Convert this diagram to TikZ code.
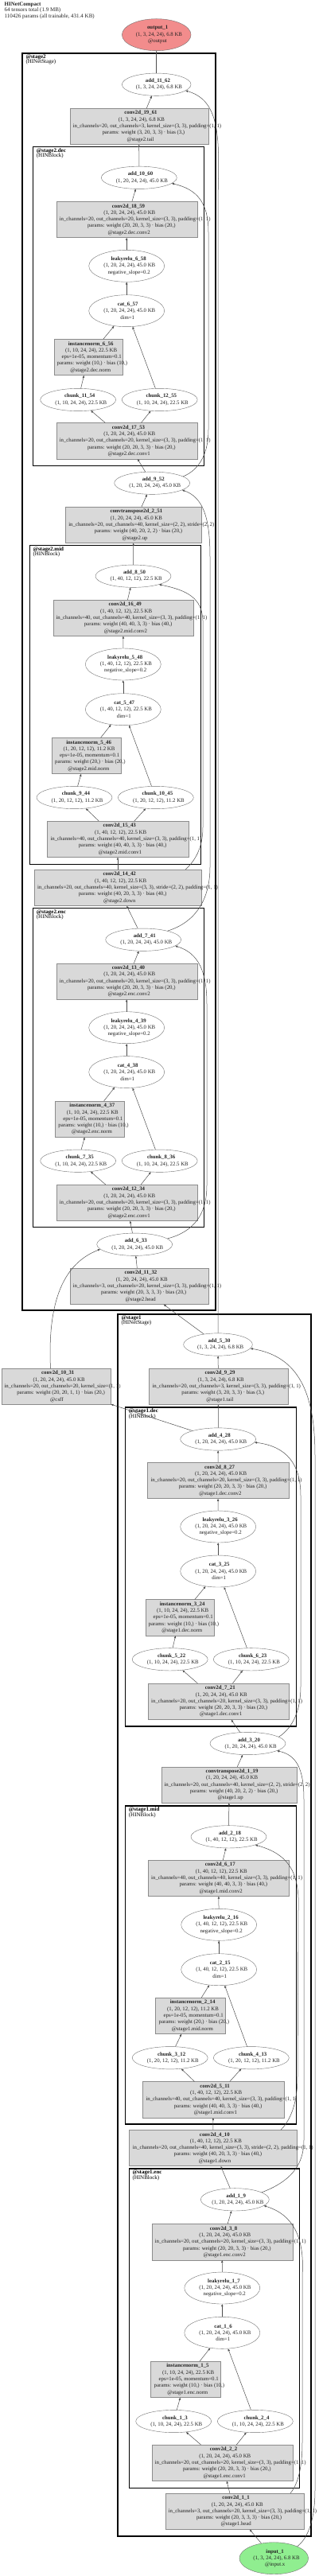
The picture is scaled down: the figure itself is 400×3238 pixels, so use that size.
\documentclass[tikz,border=0pt]{standalone}
\usepackage{fontspec}
\setmainfont{Liberation Serif}
\usetikzlibrary{arrows.meta,shapes.geometric}
\definecolor{boxfill}{HTML}{D9D9D9}
\definecolor{boxline}{HTML}{8C8C8C}
\definecolor{ellline}{HTML}{707070}
\definecolor{flowcol}{HTML}{4D4D4D}
\definecolor{outfill}{HTML}{F28C8C}
\definecolor{infill}{HTML}{90EE90}
\definecolor{txtcol}{HTML}{222222}
\newlength{\zlw}
\newcommand{\zl}[1]{\settowidth{\zlw}{#1}\makebox[0pt]{\hspace*{0.11\zlw}#1}}
\newcommand{\optxt}[5]{\zl{\textbf{#1}}\\\zl{#2}\\\zl{#3}\\\zl{#4}\\\zl{#5}}
\newcommand{\twotxt}[2]{\zl{\textbf{#1}}\\\zl{#2}}
\newcommand{\threetxt}[3]{\zl{\textbf{#1}}\\\zl{#2}\\\zl{#3}}

\begin{document}
\begin{tikzpicture}[x=1pt, y=-1pt, >={Triangle[length=3pt,width=2.4pt]}, font=\fontsize{6.8pt}{8.3pt}\selectfont,
  opbox/.style={rectangle, draw=boxline, fill=boxfill, inner sep=0pt, minimum height=45.3pt, align=center, text=txtcol},
  opell/.style={ellipse, draw=ellline, fill=white, inner sep=0pt, minimum width=95pt, minimum height=28.3pt, align=center, text=txtcol},
  threeline/.style={minimum height=40pt},
  flow/.style={->, draw=flowcol, line width=0.5pt},
  stagebox/.style={draw=black, line width=1.8pt},
  blockbox/.style={draw=black, line width=1.2pt},
  clabel/.style={anchor=north west, align=left, inner sep=0pt, font=\fontsize{7pt}{6.5pt}\selectfont}]
  \useasboundingbox (0,0) rectangle (400,3238);

  \node[clabel, font=\fontsize{7pt}{6pt}\selectfont, text=txtcol] (title) at (5.5,2.7) {\textbf{HINetCompact}\\64 tensors total (1.9 MB)\\110426 params (all trainable, 431.4 KB)};

  \draw[stagebox] (28.3,66.7) rectangle (270.7,1647.3);
  \draw[blockbox] (41.7,184.3) rectangle (256.7,585.7);
  \draw[blockbox] (37.3,685.7) rectangle (252.3,1086.7);
  \draw[blockbox] (41.7,1141.7) rectangle (256.7,1542.7);
  \draw[stagebox] (148.3,1651.7) rectangle (390.7,3188.3);
  \draw[blockbox] (157.7,1769) rectangle (372.3,2170);
  \draw[blockbox] (157.7,2270) rectangle (372.3,2670);
  \draw[blockbox] (162.3,2726) rectangle (376.7,3127.3);
  \node[clabel] (l2) at (32.3,68.2) {\textbf{@stage2}\\(HINetStage)};
  \node[clabel] (l2d) at (45.7,186) {\textbf{@stage2.dec}\\(HINBlock)};
  \node[clabel] (l2m) at (41.3,687.4) {\textbf{@stage2.mid}\\(HINBlock)};
  \node[clabel] (l2e) at (45.7,1143.4) {\textbf{@stage2.enc}\\(HINBlock)};
  \node[clabel] (l1) at (152.3,1653.4) {\textbf{@stage1}\\(HINetStage)};
  \node[clabel] (l1d) at (161.7,1770.7) {\textbf{@stage1.dec}\\(HINBlock)};
  \node[clabel] (l1m) at (161.7,2271.7) {\textbf{@stage1.mid}\\(HINBlock)};
  \node[clabel] (l1e) at (166.3,2727.7) {\textbf{@stage1.enc}\\(HINBlock)};

  \node[opell, minimum width=86.7pt, threeline, fill=outfill] (outp) at (196.7,43.7) {\threetxt{output\_1}{(1, 3, 24, 24), 6.8 KB}{@output}};
  \node[opell, minimum width=86.7pt] (a11) at (196.7,106.2) {\twotxt{add\_11\_62}{(1, 3, 24, 24), 6.8 KB}};
  \node[opbox, minimum width=174pt] (c19) at (174.7,158.9) {\optxt{conv2d\_19\_61}{(1, 3, 24, 24), 6.8 KB}{in\_channels=20, out\_channels=3, kernel\_size=(3, 3), padding=(1, 1)}{params: weight (3, 20, 3, 3) · bias (3,)}{@stage2.tail}};
  \node[opell] (a10) at (174.8,223.3) {\twotxt{add\_10\_60}{(1, 20, 24, 24), 45.0 KB}};
  \node[opbox, minimum width=177pt] (c18) at (159.2,276) {\optxt{conv2d\_18\_59}{(1, 20, 24, 24), 45.0 KB}{in\_channels=20, out\_channels=20, kernel\_size=(3, 3), padding=(1, 1)}{params: weight (20, 20, 3, 3) · bias (20,)}{@stage2.dec.conv2}};
  \node[opell, threeline] (lr6) at (159.2,334.3) {\threetxt{leakyrelu\_6\_58}{(1, 20, 24, 24), 45.0 KB}{negative\_slope=0.2}};
  \node[opell, threeline] (cat6) at (159.2,390.7) {\threetxt{cat\_6\_57}{(1, 20, 24, 24), 45.0 KB}{dim=1}};
  \node[opbox, minimum width=86.6pt] (n6) at (111,449) {\optxt{instancenorm\_6\_56}{(1, 10, 24, 24), 22.5 KB}{eps=1e-05, momentum=0.1}{params: weight (10,) · bias (10,)}{@stage2.dec.norm}};
  \node[opell] (ch11) at (98.2,502.5) {\twotxt{chunk\_11\_54}{(1, 10, 24, 24), 22.5 KB}};
  \node[opell] (ch12) at (200.7,502.5) {\twotxt{chunk\_12\_55}{(1, 10, 24, 24), 22.5 KB}};
  \node[opbox, minimum width=177pt] (c17) at (159.2,554.2) {\optxt{conv2d\_17\_53}{(1, 20, 24, 24), 45.0 KB}{in\_channels=20, out\_channels=20, kernel\_size=(3, 3), padding=(1, 1)}{params: weight (20, 20, 3, 3) · bias (20,)}{@stage2.dec.conv1}};
  \node[opell] (a9) at (191.2,607.2) {\twotxt{add\_9\_52}{(1, 20, 24, 24), 45.0 KB}};
  \node[opbox, minimum width=171pt] (up2) at (167.8,659.8) {\optxt{convtranspose2d\_2\_51}{(1, 20, 24, 24), 45.0 KB}{in\_channels=20, out\_channels=40, kernel\_size=(2, 2), stride=(2, 2)}{params: weight (40, 20, 2, 2) · bias (20,)}{@stage2.up}};
  \node[opell] (a8) at (167.5,724.2) {\twotxt{add\_8\_50}{(1, 40, 12, 12), 22.5 KB}};
  \node[opbox, minimum width=176.6pt] (c16) at (155,776.8) {\optxt{conv2d\_16\_49}{(1, 40, 12, 12), 22.5 KB}{in\_channels=40, out\_channels=40, kernel\_size=(3, 3), padding=(1, 1)}{params: weight (40, 40, 3, 3) · bias (40,)}{@stage2.mid.conv2}};
  \node[opell, threeline] (lr5) at (154.8,835) {\threetxt{leakyrelu\_5\_48}{(1, 40, 12, 12), 22.5 KB}{negative\_slope=0.2}};
  \node[opell, threeline] (cat5) at (154.8,891.7) {\threetxt{cat\_5\_47}{(1, 40, 12, 12), 22.5 KB}{dim=1}};
  \node[opbox, minimum width=86.4pt] (n5) at (108.5,950) {\optxt{instancenorm\_5\_46}{(1, 20, 12, 12), 11.2 KB}{eps=1e-05, momentum=0.1}{params: weight (20,) · bias (20,)}{@stage2.mid.norm}};
  \node[opell] (ch9) at (93.5,1002.5) {\twotxt{chunk\_9\_44}{(1, 20, 12, 12), 11.2 KB}};
  \node[opell] (ch10) at (195.8,1002.5) {\twotxt{chunk\_10\_45}{(1, 20, 12, 12), 11.2 KB}};
  \node[opbox, minimum width=177.4pt] (c15) at (148,1054.8) {\optxt{conv2d\_15\_43}{(1, 40, 12, 12), 22.5 KB}{in\_channels=40, out\_channels=40, kernel\_size=(3, 3), padding=(1, 1)}{params: weight (40, 40, 3, 3) · bias (40,)}{@stage2.mid.conv1}};
  \node[opbox, minimum width=210.6pt] (c14) at (148,1115.8) {\optxt{conv2d\_14\_42}{(1, 40, 12, 12), 22.5 KB}{in\_channels=20, out\_channels=40, kernel\_size=(3, 3), stride=(2, 2), padding=(1, 1)}{params: weight (40, 20, 3, 3) · bias (40,)}{@stage2.down}};
  \node[opell] (a7) at (180.2,1181.2) {\twotxt{add\_7\_41}{(1, 20, 24, 24), 45.0 KB}};
  \node[opbox, minimum width=177pt] (c13) at (159.2,1233.5) {\optxt{conv2d\_13\_40}{(1, 20, 24, 24), 45.0 KB}{in\_channels=20, out\_channels=20, kernel\_size=(3, 3), padding=(1, 1)}{params: weight (20, 20, 3, 3) · bias (20,)}{@stage2.enc.conv2}};
  \node[opell, threeline] (lr4) at (159.2,1291.7) {\threetxt{leakyrelu\_4\_39}{(1, 20, 24, 24), 45.0 KB}{negative\_slope=0.2}};
  \node[opell, threeline] (cat4) at (159.2,1347.6) {\threetxt{cat\_4\_38}{(1, 20, 24, 24), 45.0 KB}{dim=1}};
  \node[opbox, minimum width=86.7pt] (n4) at (112.7,1406.7) {\optxt{instancenorm\_4\_37}{(1, 10, 24, 24), 22.5 KB}{eps=1e-05, momentum=0.1}{params: weight (10,) · bias (10,)}{@stage2.enc.norm}};
  \node[opell] (ch7) at (98.2,1459.2) {\twotxt{chunk\_7\_35}{(1, 10, 24, 24), 22.5 KB}};
  \node[opell] (ch8) at (200.7,1459.2) {\twotxt{chunk\_8\_36}{(1, 10, 24, 24), 22.5 KB}};
  \node[opbox, minimum width=177pt] (c12) at (159.2,1511.8) {\optxt{conv2d\_12\_34}{(1, 20, 24, 24), 45.0 KB}{in\_channels=20, out\_channels=20, kernel\_size=(3, 3), padding=(1, 1)}{params: weight (20, 20, 3, 3) · bias (20,)}{@stage2.enc.conv1}};
  \node[opell] (a6) at (169.2,1564.2) {\twotxt{add\_6\_33}{(1, 20, 24, 24), 45.0 KB}};
  \node[opbox, minimum width=174pt] (c11) at (174.7,1616.8) {\optxt{conv2d\_11\_32}{(1, 20, 24, 24), 45.0 KB}{in\_channels=3, out\_channels=20, kernel\_size=(3, 3), padding=(1, 1)}{params: weight (20, 3, 3, 3) · bias (20,)}{@stage2.head}};
  \node[opbox, minimum width=137.6pt] (c10) at (70.5,1742.8) {\optxt{conv2d\_10\_31}{(1, 20, 24, 24), 45.0 KB}{in\_channels=20, out\_channels=20, kernel\_size=(1, 1)}{params: weight (20, 20, 1, 1) · bias (20,)}{@csff}};

  \node[opell, minimum width=86.7pt] (a5) at (274,1690) {\twotxt{add\_5\_30}{(1, 3, 24, 24), 6.8 KB}};
  \node[opbox, minimum width=174.4pt] (c9) at (274.5,1742.8) {\optxt{conv2d\_9\_29}{(1, 3, 24, 24), 6.8 KB}{in\_channels=20, out\_channels=3, kernel\_size=(3, 3), padding=(1, 1)}{params: weight (3, 20, 3, 3) · bias (3,)}{@stage1.tail}};
  \node[opell] (a4) at (274.2,1809) {\twotxt{add\_4\_28}{(1, 20, 24, 24), 45.0 KB}};
  \node[opbox, minimum width=177.4pt] (c8) at (274,1861) {\optxt{conv2d\_8\_27}{(1, 20, 24, 24), 45.0 KB}{in\_channels=20, out\_channels=20, kernel\_size=(3, 3), padding=(1, 1)}{params: weight (20, 20, 3, 3) · bias (20,)}{@stage1.dec.conv2}};
  \node[opell, threeline] (lr3) at (274.2,1919) {\threetxt{leakyrelu\_3\_26}{(1, 20, 24, 24), 45.0 KB}{negative\_slope=0.2}};
  \node[opell, threeline] (cat3) at (274.2,1975) {\threetxt{cat\_3\_25}{(1, 20, 24, 24), 45.0 KB}{dim=1}};
  \node[opbox, minimum width=86.6pt] (n3) at (226,2033.3) {\optxt{instancenorm\_3\_24}{(1, 10, 24, 24), 22.5 KB}{eps=1e-05, momentum=0.1}{params: weight (10,) · bias (10,)}{@stage1.dec.norm}};
  \node[opell] (ch5) at (213.7,2085.8) {\twotxt{chunk\_5\_22}{(1, 10, 24, 24), 22.5 KB}};
  \node[opell] (ch6) at (315.8,2085.8) {\twotxt{chunk\_6\_23}{(1, 10, 24, 24), 22.5 KB}};
  \node[opbox, minimum width=177.3pt] (c7) at (274.7,2138.7) {\optxt{conv2d\_7\_21}{(1, 20, 24, 24), 45.0 KB}{in\_channels=20, out\_channels=20, kernel\_size=(3, 3), padding=(1, 1)}{params: weight (20, 20, 3, 3) · bias (20,)}{@stage1.dec.conv1}};
  \node[opell] (a3) at (311.5,2191.5) {\twotxt{add\_3\_20}{(1, 20, 24, 24), 45.0 KB}};
  \node[opbox, minimum width=170.6pt] (up1) at (288,2243.5) {\optxt{convtranspose2d\_1\_19}{(1, 20, 24, 24), 45.0 KB}{in\_channels=20, out\_channels=40, kernel\_size=(2, 2), stride=(2, 2)}{params: weight (40, 20, 2, 2) · bias (20,)}{@stage1.up}};
  \node[opell] (a2) at (287.5,2308.8) {\twotxt{add\_2\_18}{(1, 40, 12, 12), 22.5 KB}};
  \node[opbox, minimum width=177.3pt] (c6) at (274.7,2360.8) {\optxt{conv2d\_6\_17}{(1, 40, 12, 12), 22.5 KB}{in\_channels=40, out\_channels=40, kernel\_size=(3, 3), padding=(1, 1)}{params: weight (40, 40, 3, 3) · bias (40,)}{@stage1.mid.conv2}};
  \node[opell, threeline] (lr2) at (275.2,2419.3) {\threetxt{leakyrelu\_2\_16}{(1, 40, 12, 12), 22.5 KB}{negative\_slope=0.2}};
  \node[opell, threeline] (cat2) at (275.2,2475.7) {\threetxt{cat\_2\_15}{(1, 40, 12, 12), 22.5 KB}{dim=1}};
  \node[opbox, minimum width=87.4pt] (n2) at (239,2533.8) {\optxt{instancenorm\_2\_14}{(1, 20, 12, 12), 11.2 KB}{eps=1e-05, momentum=0.1}{params: weight (20,) · bias (20,)}{@stage1.mid.norm}};
  \node[opell] (ch3) at (213.7,2586.7) {\twotxt{chunk\_3\_12}{(1, 20, 12, 12), 11.2 KB}};
  \node[opell] (ch4) at (315.8,2586.7) {\twotxt{chunk\_4\_13}{(1, 20, 12, 12), 11.2 KB}};
  \node[opbox, minimum width=177.4pt] (c5) at (268,2639.2) {\optxt{conv2d\_5\_11}{(1, 40, 12, 12), 22.5 KB}{in\_channels=40, out\_channels=40, kernel\_size=(3, 3), padding=(1, 1)}{params: weight (40, 40, 3, 3) · bias (40,)}{@stage1.mid.conv1}};
  \node[opbox, minimum width=211pt] (c4) at (267.8,2700) {\optxt{conv2d\_4\_10}{(1, 40, 12, 12), 22.5 KB}{in\_channels=20, out\_channels=40, kernel\_size=(3, 3), stride=(2, 2), padding=(1, 1)}{params: weight (40, 20, 3, 3) · bias (40,)}{@stage1.down}};
  \node[opell, minimum width=86pt] (a1) at (295.3,2764.8) {\twotxt{add\_1\_9}{(1, 20, 24, 24), 45.0 KB}};
  \node[opbox, minimum width=177pt] (c3) at (279.2,2818.2) {\optxt{conv2d\_3\_8}{(1, 20, 24, 24), 45.0 KB}{in\_channels=20, out\_channels=20, kernel\_size=(3, 3), padding=(1, 1)}{params: weight (20, 20, 3, 3) · bias (20,)}{@stage1.enc.conv2}};
  \node[opell, threeline] (lr1) at (279.3,2876) {\threetxt{leakyrelu\_1\_7}{(1, 20, 24, 24), 45.0 KB}{negative\_slope=0.2}};
  \node[opell, threeline] (cat1) at (279.3,2932.3) {\threetxt{cat\_1\_6}{(1, 20, 24, 24), 45.0 KB}{dim=1}};
  \node[opbox, minimum width=87.4pt] (n1) at (233,2990.8) {\optxt{instancenorm\_1\_5}{(1, 10, 24, 24), 22.5 KB}{eps=1e-05, momentum=0.1}{params: weight (10,) · bias (10,)}{@stage1.enc.norm}};
  \node[opell] (ch1) at (218.2,3043.5) {\twotxt{chunk\_1\_3}{(1, 10, 24, 24), 22.5 KB}};
  \node[opell] (ch2) at (320.8,3043.5) {\twotxt{chunk\_2\_4}{(1, 10, 24, 24), 22.5 KB}};
  \node[opbox, minimum width=177pt] (c2) at (279.2,3095.8) {\optxt{conv2d\_2\_2}{(1, 20, 24, 24), 45.0 KB}{in\_channels=20, out\_channels=20, kernel\_size=(3, 3), padding=(1, 1)}{params: weight (20, 20, 3, 3) · bias (20,)}{@stage1.enc.conv1}};
  \node[opbox, minimum width=174pt] (c1) at (294.7,3156.7) {\optxt{conv2d\_1\_1}{(1, 20, 24, 24), 45.0 KB}{in\_channels=3, out\_channels=20, kernel\_size=(3, 3), padding=(1, 1)}{params: weight (20, 3, 3, 3) · bias (20,)}{@stage1.head}};
  \node[opell, minimum width=86.7pt, threeline, fill=infill] (inp) at (344.3,3215.7) {\threetxt{input\_1}{(1, 3, 24, 24), 6.8 KB}{@input.x}};

  \draw[flow] (a11) -- (outp);
  \draw[flow] (c19) -- (a11);
  \draw[flow] (a10) -- (c19);
  \draw[flow] (c18) -- (a10);
  \draw[flow] (lr6) -- (c18);
  \draw[flow] (cat6) -- (lr6);
  \draw[flow] (n6) -- (cat6);
  \draw[flow] (ch12) -- (cat6);
  \draw[flow] (ch11) -- (n6);
  \draw[flow] (c17) -- (ch11);
  \draw[flow] (c17) -- (ch12);
  \draw[flow] (a9) -- (c17);
  \draw[flow] (up2) -- (a9);
  \draw[flow] (a8) -- (up2);
  \draw[flow] (c16) -- (a8);
  \draw[flow] (lr5) -- (c16);
  \draw[flow] (cat5) -- (lr5);
  \draw[flow] (n5) -- (cat5);
  \draw[flow] (ch10) -- (cat5);
  \draw[flow] (ch9) -- (n5);
  \draw[flow] (c15) -- (ch9);
  \draw[flow] (c15) -- (ch10);
  \draw[flow] (c14) -- (c15);
  \draw[flow] (a7) -- (c14);
  \draw[flow] (c13) -- (a7);
  \draw[flow] (lr4) -- (c13);
  \draw[flow] (cat4) -- (lr4);
  \draw[flow] (n4) -- (cat4);
  \draw[flow] (ch8) -- (cat4);
  \draw[flow] (ch7) -- (n4);
  \draw[flow] (c12) -- (ch7);
  \draw[flow] (c12) -- (ch8);
  \draw[flow] (a6) -- (c12);
  \draw[flow] (c11) -- (a6);
  \draw[flow] (a5) -- (c11);
  \draw[flow] (a4) -- (c10);
  \draw[flow] (c9) -- (a5);
  \draw[flow] (a4) -- (c9);
  \draw[flow] (c8) -- (a4);
  \draw[flow] (lr3) -- (c8);
  \draw[flow] (cat3) -- (lr3);
  \draw[flow] (n3) -- (cat3);
  \draw[flow] (ch6) -- (cat3);
  \draw[flow] (ch5) -- (n3);
  \draw[flow] (c7) -- (ch5);
  \draw[flow] (c7) -- (ch6);
  \draw[flow] (a3) -- (c7);
  \draw[flow] (up1) -- (a3);
  \draw[flow] (a2) -- (up1);
  \draw[flow] (c6) -- (a2);
  \draw[flow] (lr2) -- (c6);
  \draw[flow] (cat2) -- (lr2);
  \draw[flow] (n2) -- (cat2);
  \draw[flow] (ch4) -- (cat2);
  \draw[flow] (ch3) -- (n2);
  \draw[flow] (c5) -- (ch3);
  \draw[flow] (c5) -- (ch4);
  \draw[flow] (c4) -- (c5);
  \draw[flow] (a1) -- (c4);
  \draw[flow] (c3) -- (a1);
  \draw[flow] (lr1) -- (c3);
  \draw[flow] (cat1) -- (lr1);
  \draw[flow] (n1) -- (cat1);
  \draw[flow] (ch2) -- (cat1);
  \draw[flow] (ch1) -- (n1);
  \draw[flow] (c2) -- (ch1);
  \draw[flow] (c2) -- (ch2);
  \draw[flow] (c1) -- (c2);
  \draw[flow] (inp) -- (c1);

  \draw[flow] (a5.north) -- (274,262) .. controls (274,190) and (283,128) .. (a11.-12);
  \draw[flow] (a9.12) .. controls (252,590) and (262,568) .. (262,540) -- (262,292) .. controls (262,255) and (248,238) .. (a10.-10);
  \draw[flow] (a7.20) .. controls (250,1158) and (264,1125) .. (264,1090) -- (264,700) .. controls (264,650) and (255,625) .. (a9.-13);
  \draw[flow] (a6.10) .. controls (245,1548) and (260,1525) .. (260,1490) -- (260,1262) .. controls (260,1222) and (250,1198) .. (a7.-11);
  \draw[flow] (c14.15) .. controls (245,1082) and (255,1066) .. (255,1040) -- (255,780) .. controls (254,752) and (236,742) .. (a8.-18);
  \draw[flow] (c10.107) .. controls (60,1645) and (75,1590) .. (a6.188);
  \draw[flow] (inp.27) .. controls (388,3190) and (396,3165) .. (396,3130) -- (396,1830) .. controls (396,1750) and (375,1705) .. (a5.-7);
  \draw[flow] (c1.18) .. controls (375,3122) and (380,3100) .. (380,3070) -- (380,2860) .. controls (383,2815) and (370,2784) .. (a1.-12);
  \draw[flow] (a1.15) .. controls (365,2742) and (382,2722) .. (382,2690) -- (382,2262) .. controls (382,2222) and (372,2206) .. (a3.-14);
  \draw[flow] (c4.15) .. controls (367,2663) and (374,2640) .. (374,2610) -- (375,2400) .. controls (377,2350) and (360,2330) .. (a2.-17);
  \draw[flow] (a3.12) .. controls (368,2172) and (378,2150) .. (378,2120) -- (378,1880) .. controls (378,1840) and (360,1818) .. (a4.-5);
\end{tikzpicture}
\end{document}
